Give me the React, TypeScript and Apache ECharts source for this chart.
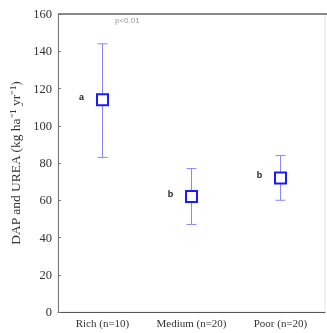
import React, { useEffect, useRef } from "react";
import * as echarts from "echarts";

const categories = ["Rich (n=10)", "Medium (n=20)", "Poor (n=20)"];
const means = [114, 62, 72];
const lowers = [83, 47, 60];
const uppers = [144, 77, 84];
const letters = ["a", "b", "b"];
const yTicks = { min: 0, max: 160, interval: 20 };

const SERIF = "'Liberation Serif', 'Times New Roman', serif";

export default function App() {
  const ref = useRef<HTMLDivElement>(null);
  useEffect(() => {
    if (!ref.current) return;
    const chart = echarts.init(ref.current, null, { renderer: "svg" });
    const data = categories.map((c, i) => [i, means[i], lowers[i], uppers[i], letters[i]]);
    chart.setOption({
      animation: false,
      textStyle: { fontFamily: SERIF },
      grid: { left: 58, right: 2, top: 14, bottom: 21, show: true, borderColor: "#e4e4e4", borderWidth: 1 },
      xAxis: {
        type: "category",
        data: categories,
        axisLine: { lineStyle: { color: "#555" } },
        axisTick: { show: false },
        axisLabel: { interval: 0, hideOverlap: false, fontFamily: SERIF, fontSize: 11, color: "#333", margin: 5 },
        splitLine: { show: false },
      },
      yAxis: {
        type: "value",
        min: yTicks.min,
        max: yTicks.max,
        interval: yTicks.interval,
        name: "DAP and UREA (kg ha\u207B\u00B9 yr\u207B\u00B9)",
        nameLocation: "middle",
        nameGap: 31,
        nameTextStyle: { fontFamily: SERIF, fontSize: 13.5, color: "#333" },
        axisLine: { show: true, lineStyle: { color: "#777" } },
        axisTick: { show: true, inside: true, length: 3, lineStyle: { color: "#777" } },
        axisLabel: { fontFamily: SERIF, fontSize: 12.5, color: "#333", margin: 6 },
        splitLine: { show: false },
      },
      graphic: [
        {
          type: "line",
          shape: { x1: 58, y1: 14, x2: 327, y2: 14 },
          style: { stroke: "#666", lineWidth: 1.5 },
        },
        {
          type: "text",
          left: 115,
          top: 16,
          style: { text: "p<0.01", fontFamily: "Liberation Sans", fontSize: 8, fill: "#999" },
        },
      ],
      series: [
        {
          type: "custom",
          data,
          encode: { x: 0, y: [1, 2, 3] },
          renderItem: (params: any, api: any) => {
            const x = api.value(0);
            const m = api.coord([x, api.value(1)]);
            const lo = api.coord([x, api.value(2)]);
            const hi = api.coord([x, api.value(3)]);
            const cap = 5;
            const sq = 11;
            const lineStyle = { stroke: "#8888ff", lineWidth: 1 };
            return {
              type: "group",
              children: [
                { type: "line", shape: { x1: m[0], y1: hi[1], x2: m[0], y2: lo[1] }, style: lineStyle },
                { type: "line", shape: { x1: m[0] - cap, y1: hi[1], x2: m[0] + cap, y2: hi[1] }, style: lineStyle },
                { type: "line", shape: { x1: m[0] - cap, y1: lo[1], x2: m[0] + cap, y2: lo[1] }, style: lineStyle },
                {
                  type: "rect",
                  shape: { x: m[0] - sq / 2, y: m[1] - sq / 2, width: sq, height: sq },
                  style: { fill: "#fff", stroke: "#1a1aff", lineWidth: 2 },
                },
                {
                  type: "text",
                  x: m[0] - 21,
                  y: m[1] - 3,
                  style: {
                    text: api.value(4),
                    fontFamily: "Liberation Sans",
                    fontWeight: "bold",
                    fontSize: 9,
                    fill: "#222",
                    textAlign: "center",
                    textVerticalAlign: "middle",
                  },
                },
              ],
            };
          },
        },
      ],
    });
    return () => chart.dispose();
  }, []);
  return (
    <div
      ref={ref}
      style={{ position: "fixed", left: 0, top: 0, width: 327, height: 333 }}
    />
  );
}
